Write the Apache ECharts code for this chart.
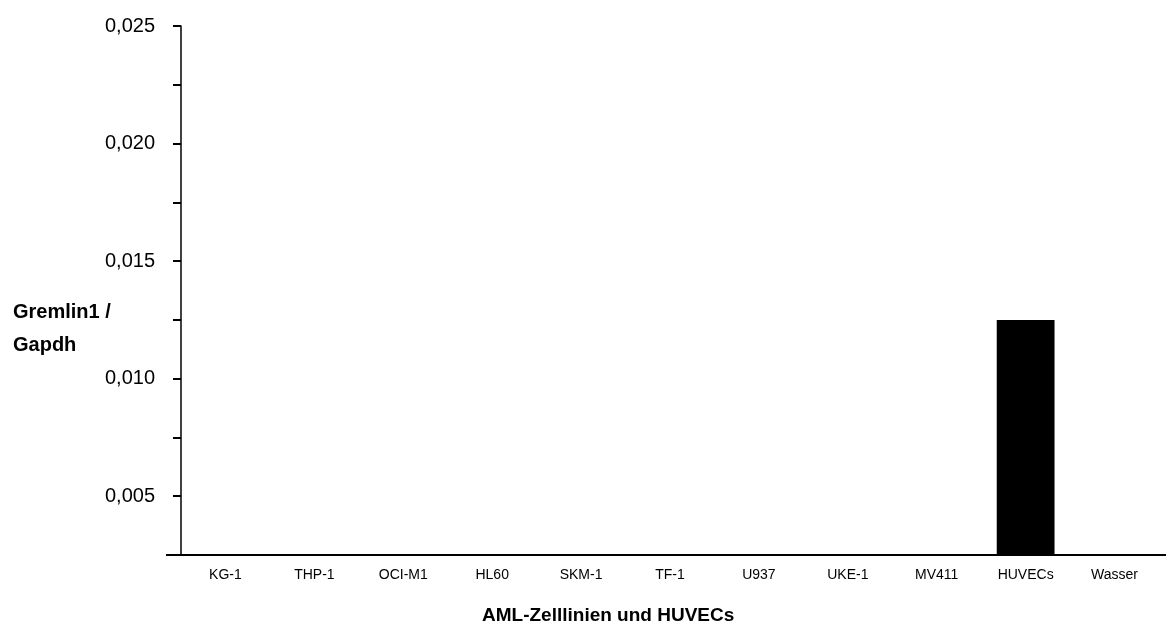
<!DOCTYPE html>
<html>
<head>
<meta charset="utf-8">
<script src="https://cdn.jsdelivr.net/npm/echarts@6/dist/echarts.min.js"></script>
<style>
  html, body { margin: 0; padding: 0; background: #fff; }
  #chart { width: 1169px; height: 634px; }
</style>
</head>
<body>
<div id="chart"></div>
<script>
var categories = ['KG-1', 'THP-1', 'OCI-M1', 'HL60', 'SKM-1', 'TF-1', 'U937', 'UKE-1', 'MV411', 'HUVECs', 'Wasser'];
var values = [0, 0, 0, 0, 0, 0, 0, 0, 0, 0.0125, 0];
var yMin = 0.0025;
var yMax = 0.025;
var yStep = 0.0025;

var chart = echarts.init(document.getElementById('chart'));
var option = {
    backgroundColor: '#fff',
    animation: false,
    grid: { left: 181, right: 10, top: 26, bottom: 79, containLabel: false },
    xAxis: {
        type: 'category',
        data: categories,
        boundaryGap: true,
        axisLine: { lineStyle: { color: '#000', width: 2 } },
        axisTick: { show: false },
        axisLabel: {
            color: '#000',
            fontFamily: 'Liberation Sans, Arial',
            fontSize: 14,
            margin: 13,
            interval: 0
        }
    },
    yAxis: {
        type: 'value',
        min: yMin,
        max: yMax,
        interval: yStep,
        splitLine: { show: false },
        axisLine: { show: true, lineStyle: { color: '#000', width: 1.5 } },
        axisTick: { show: true, length: 8, lineStyle: { color: '#000', width: 2 } },
        axisLabel: {
            color: '#000',
            fontFamily: 'Liberation Sans, Arial',
            fontSize: 20,
            margin: 26,
            formatter: function (v) {
                var k = Math.round(v / yStep);
                if (k % 2 !== 0) return '';
                return v.toFixed(3).replace('.', ',');
            }
        }
    },
    series: [{
        type: 'bar',
        data: values,
        barWidth: '65%',
        clip: true,
        itemStyle: { color: '#000' }
    }],
    graphic: [
        {
            type: 'text', left: 13, top: 296,
            style: {
                text: 'Gremlin1 /\nGapdh',
                fill: '#000',
                font: 'bold 20px "Liberation Sans", Arial',
                lineHeight: 33
            }
        },
        {
            type: 'text', left: 482, top: 606,
            style: {
                text: 'AML-Zelllinien und HUVECs',
                fill: '#000',
                font: 'bold 19px "Liberation Sans", Arial'
            }
        },
        {
            type: 'line',
            shape: { x1: 166, y1: 555, x2: 181, y2: 555 },
            style: { stroke: '#000', lineWidth: 2 }
        },
        {
            type: 'line',
            shape: { x1: 1158, y1: 555, x2: 1166, y2: 555 },
            style: { stroke: '#000', lineWidth: 2 }
        }
    ]
};
chart.setOption(option);
</script>
</body>
</html>
